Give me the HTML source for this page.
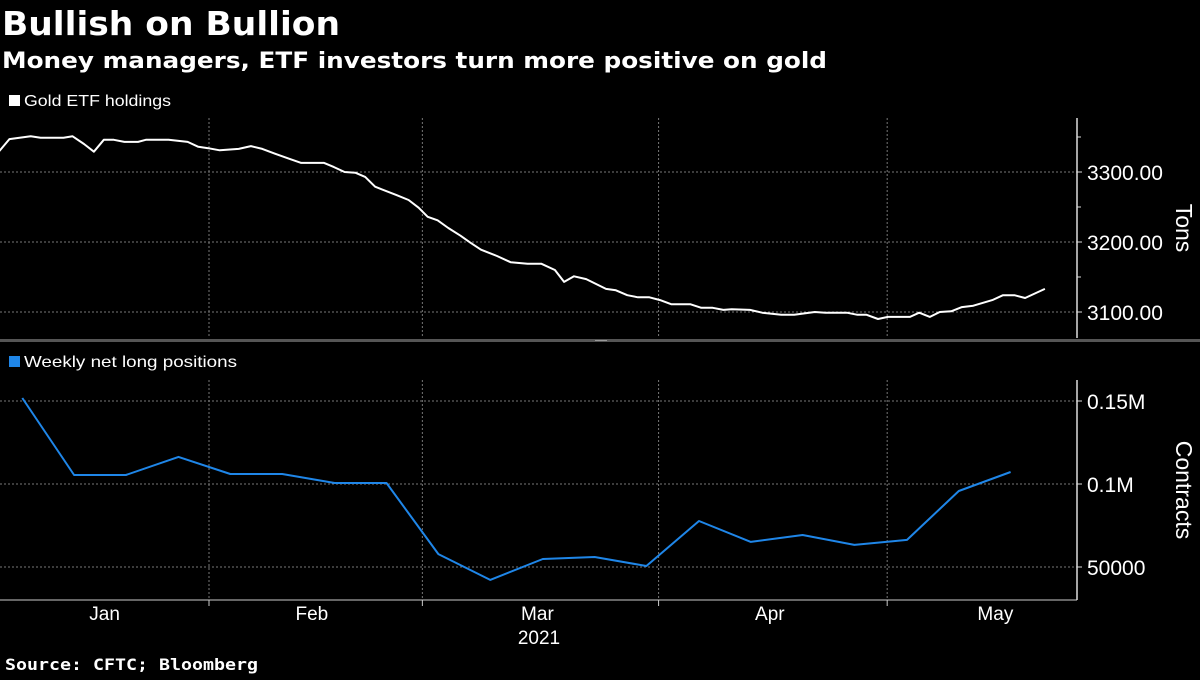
<!DOCTYPE html>
<html><head><meta charset="utf-8"><style>
body{margin:0;background:#000;width:1200px;height:675px;overflow:hidden;font-family:"Liberation Sans",sans-serif;color:#fff}
</style></head><body>
<svg width="1200" height="675" xmlns="http://www.w3.org/2000/svg" id="chart" style="font-family:'Liberation Sans',sans-serif">
<text x="2" y="35" font-size="33" font-weight="bold" fill="#fff" font-family="DejaVu Sans, sans-serif" textLength="338" lengthAdjust="spacingAndGlyphs">Bullish on Bullion</text>
<text x="2" y="68" font-size="22" font-weight="bold" fill="#fff" font-family="DejaVu Sans, sans-serif" textLength="825" lengthAdjust="spacingAndGlyphs">Money managers, ETF investors turn more positive on gold</text>
<rect x="9" y="95" width="11" height="11" fill="#fff"/>
<text x="24" y="106" font-size="16" fill="#fff" textLength="147" lengthAdjust="spacingAndGlyphs">Gold ETF holdings</text>
<rect x="0" y="339" width="1200" height="3" fill="#555"/>
<rect x="595" y="340" width="12" height="1" fill="#999"/>
<rect x="9" y="356" width="11" height="11" fill="#1f86e8"/>
<text x="24" y="367" font-size="16" fill="#fff" textLength="213" lengthAdjust="spacingAndGlyphs">Weekly net long positions</text>
<g id="grid"></g><g id="axes"></g><g id="series"></g>
<text x="539" y="644" font-size="19" fill="#fff" text-anchor="middle">2021</text>
<text x="5" y="670" font-size="16" font-weight="bold" fill="#fff" font-family="DejaVu Sans Mono, monospace" textLength="253" lengthAdjust="spacingAndGlyphs">Source: CFTC; Bloomberg</text>
<text transform="translate(1176,228) rotate(90)" font-size="23" fill="#fff" text-anchor="middle">Tons</text>
<text transform="translate(1176,490) rotate(90)" font-size="23" fill="#fff" text-anchor="middle">Contracts</text>
</svg>
<script>
const etfDays=[3.5,4.8,7.6,8.9,11.9,13.1,14.6,15.9,17.2,18.5,19.9,21.7,22.7,25.7,28.2,29.6,30.9,32.4,34.9,36.5,38.0,39.7,41.5,43.1,46.1,47.4,48.8,50.2,51.5,52.8,55.6,57.2,58.5,59.7,61.0,62.4,64.0,65.3,66.7,68.8,70.6,72.8,74.6,76.4,77.6,78.9,80.5,83.1,84.4,85.9,87.3,88.8,90.2,91.7,94.2,95.6,97.1,98.5,99.6,102,103.6,106.1,107.8,110.5,111.9,114.7,116.1,117.3,118.8,120.1,123,124.2,125.6,126.9,128.4,129.8,131.3,133.8,135.2,136.7,138.1,140.7];
const etfTons=[3330,3347,3351,3349,3349,3351,3340,3329,3346,3346,3343,3343,3346,3346,3343,3336,3334,3331,3333,3337,3333,3326,3319,3313,3313,3307,3300,3299,3293,3279,3267,3260,3249,3236,3231,3220,3209,3199,3189,3180,3171,3169,3169,3160,3143,3151,3147,3133,3131,3124,3121,3121,3117,3111,3111,3106,3106,3103,3104,3103,3099,3096,3096,3100,3099,3099,3096,3096,3090,3093,3093,3099,3093,3100,3101,3107,3109,3117,3124,3124,3120,3133];
const posDays=[6.5,13.3,20.1,27.0,33.8,40.6,47.5,54.3,61.1,67.9,74.8,81.6,88.4,95.3,102.1,108.9,115.7,122.6,129.4,136.2];
const posValues=[151800,105400,105400,116300,106000,106000,100600,100600,57800,42200,54800,56000,50600,77700,65100,69300,63300,66300,95800,107200];
const monthNames=['Jan','Feb','Mar','Apr','May'];
const monthMid=[17.3,44.5,74.1,104.6,134.2];
const monthStarts=[31,59,90,120];
const topTicks=[3100,3200,3300];
const topTickLabels=['3100.00','3200.00','3300.00'];
const topMinor=[3150,3250,3350];
const botTicks=[50000,100000,150000];
const botTickLabels=['50000','0.1M','0.15M'];

const NS='http://www.w3.org/2000/svg';
const xS=d=>209+(d-31)*7.62;
const yT=v=>312-(v-3100)*0.7;
const yB=v=>567-(v-50000)*83/50000;
const AX=1077;
function mk(tag,attrs,parent,text){const e=document.createElementNS(NS,tag);for(const k in attrs)e.setAttribute(k,attrs[k]);if(text!==undefined)e.textContent=text;document.getElementById(parent).appendChild(e);return e;}
monthStarts.forEach((d,i)=>{
 const x=xS(d);
 let g=mk('line',{x1:x,x2:x,y1:118,y2:338,stroke:'#777','stroke-dasharray':'2,2','stroke-width':1},'grid');
 
 
 g=mk('line',{x1:x,x2:x,y1:380,y2:600,stroke:'#777','stroke-dasharray':'2,2','stroke-width':1},'grid');
 
 
 g=mk('line',{x1:x,x2:x,y1:600,y2:606,stroke:'#ccc','stroke-width':1},'axes');
 
 
});
monthNames.forEach((m,i)=>{
 const t=mk('text',{x:xS(monthMid[i]),y:620,'font-size':19,fill:'#fff','text-anchor':'middle'},'axes',m);
 
 
});
let a=mk('line',{x1:0,x2:AX,y1:600,y2:600,stroke:'#ccc','stroke-width':1},'axes');


a=mk('line',{x1:AX,x2:AX,y1:118,y2:338,stroke:'#ddd','stroke-width':1.5},'axes');


a=mk('line',{x1:AX,x2:AX,y1:380,y2:600,stroke:'#ddd','stroke-width':1.5},'axes');


topTicks.forEach((v,i)=>{
 const y=yT(v);
 let g=mk('line',{x1:0,x2:AX,y1:y,y2:y,stroke:'#777','stroke-dasharray':'2,2'},'grid');
 
 
 g=mk('line',{x1:AX,x2:AX+5,y1:y,y2:y,stroke:'#ddd'},'axes');
 
 
 g=mk('text',{x:AX+10,y:y+8,'font-size':21,fill:'#fff'},'axes',topTickLabels[i]);
 
 
});
topMinor.forEach(v=>{
 const g=mk('line',{x1:AX,x2:AX+4,y1:yT(v),y2:yT(v),stroke:'#ddd'},'axes');
 
 
});
botTicks.forEach((v,i)=>{
 const y=yB(v);
 let g=mk('line',{x1:0,x2:AX,y1:y,y2:y,stroke:'#777','stroke-dasharray':'2,2'},'grid');
 
 
 g=mk('line',{x1:AX,x2:AX+5,y1:y,y2:y,stroke:'#ddd'},'axes');
 
 
 g=mk('text',{x:AX+10,y:y+8,'font-size':21,fill:'#fff'},'axes',botTickLabels[i]);
 
 
});
let p=mk('polyline',{points:etfDays.map((d,i)=>xS(d).toFixed(1)+','+yT(etfTons[i]).toFixed(1)).join(' '),fill:'none',stroke:'#fff','stroke-width':2,'stroke-linejoin':'round'},'series');


p=mk('polyline',{points:posDays.map((d,i)=>xS(d).toFixed(1)+','+yB(posValues[i]).toFixed(1)).join(' '),fill:'none',stroke:'#1f86e8','stroke-width':2,'stroke-linejoin':'round'},'series');


</script>
</body></html>
